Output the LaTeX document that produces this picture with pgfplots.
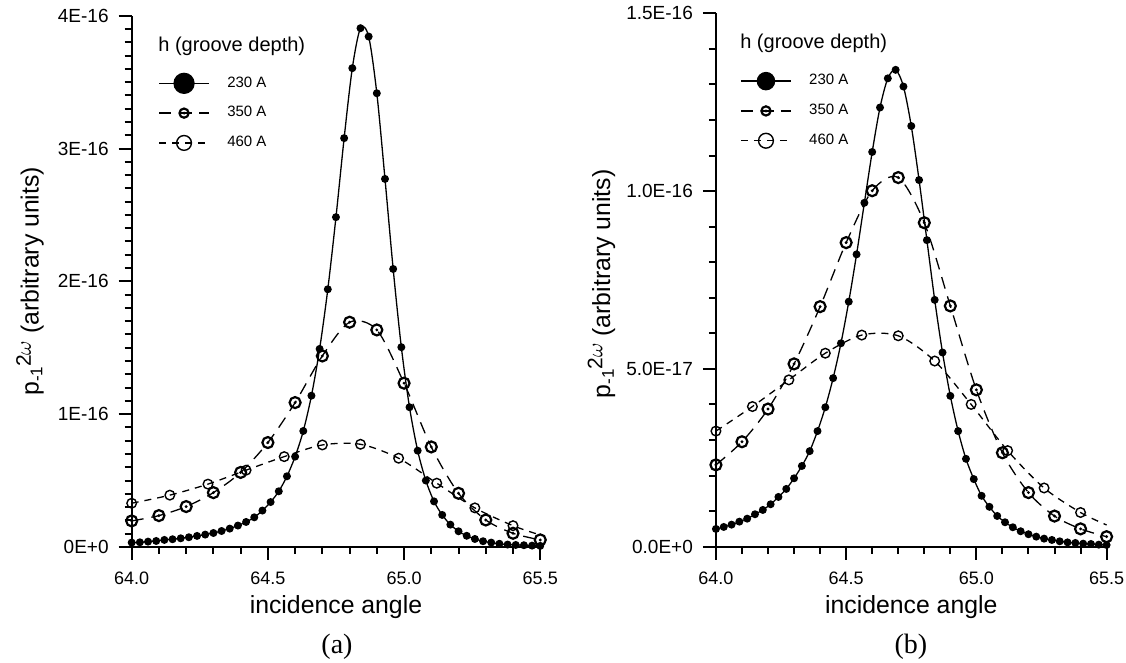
\documentclass[border=0pt]{standalone}
\usepackage{fontspec}
\setmainfont{Liberation Sans}
\newfontfamily\capfont{Liberation Serif}
\usepackage{pgfplots}
\pgfplotsset{compat=1.18}

% circle with a dot in the middle (350 A)
\pgfdeclareplotmark{dotcirc}{%
  \pgfpathcircle{\pgfpointorigin}{\pgfplotmarksize}\pgfusepathqstroke
  \pgfpathcircle{\pgfpointorigin}{0.8pt}\pgfusepathqfill}

\pgfplotsset{
  panel/.style={
    scale only axis, axis lines*=left, tick align=outside, clip=false,
    axis line style={line width=1pt},
    tick style={black, line width=1pt},
    major tick length=6.5pt, minor tick length=3.5pt,
    xmin=64, xmax=65.5, xtick={64,64.5,65,65.5},
    xticklabels={64.0,64.5,65.0,65.5}, minor x tick num=4,
    xticklabel style={font=\fontsize{9}{10}\selectfont, yshift=-2.5pt},
    yticklabel style={font=\fontsize{9.5}{10}\selectfont, xshift=-1.5pt},
    xlabel={incidence angle},
    xlabel style={at={(axis description cs:0.5,-0.126)}, anchor=base,
      font=\fontsize{12.4}{14}\selectfont},
    ylabel={p\raisebox{-0.3ex}{\fontsize{8.5}{9}\selectfont -1}\raisebox{3.8pt}{\fontsize{10.5}{11}\selectfont 2$\omega$} (arbitrary units)},
    ylabel style={anchor=base, font=\fontsize{12.4}{14}\selectfont},
    legend style={draw=none, fill=none, inner sep=0pt, anchor=north west,
      row sep=0.25pt, column sep=8.8pt,
      font=\fontsize{7.5}{8}\selectfont, nodes={inner sep=0pt}},
    legend cell align=left,
    legend image code/.code={
      \draw[mark repeat=2,mark phase=2] plot coordinates {(0pt,0pt) (12.5pt,0pt) (25pt,0pt)};
      \path (0pt,-7pt) (0pt,7pt);},
  },
  s230/.style={black, line width=0.65pt, smooth, mark=*, mark size=1.65pt,
    mark options={solid, fill=black}},
  s350/.style={black, line width=0.65pt, smooth, dash pattern=on 6pt off 4pt,
    mark=dotcirc, mark size=2.75pt, mark options={solid, line width=1.1pt}},
  s460/.style={black, line width=0.65pt, smooth, dash pattern=on 3.5pt off 3pt,
    mark=o, mark size=2.4pt, mark options={solid, line width=0.7pt}},
}

\begin{document}
\begin{tikzpicture}
\path[use as bounding box] (-65.85pt,-58pt) rectangle (497.2pt,273.5pt);

% ---------------- (a) ----------------
\begin{axis}[panel, at={(0pt,0pt)}, anchor=south west,
  width=204.3pt, height=265.65pt,
  ymin=0, ymax=4, ytick={0,1,2,3,4},
  yticklabels={0E+0,1E-16,2E-16,3E-16,4E-16}, minor y tick num=9,
  ylabel style={at={(axis description cs:-0.228,0.5)}},
  legend style={at={(axis description cs:0.0644,0.901)}}]
\addplot[s230, forget plot] coordinates {
 (64.00,0.033) (64.03,0.035) (64.06,0.040) (64.09,0.045) (64.12,0.053)
 (64.15,0.058) (64.18,0.065) (64.21,0.073) (64.24,0.083) (64.27,0.093)
 (64.30,0.105) (64.33,0.120) (64.36,0.138) (64.39,0.161) (64.42,0.188)
 (64.45,0.223) (64.48,0.274) (64.51,0.338) (64.54,0.419) (64.57,0.532)
 (64.60,0.680) (64.63,0.873) (64.66,1.139) (64.69,1.491) (64.72,1.940)
 (64.75,2.483) (64.78,3.078) (64.81,3.605) (64.84,3.906) (64.87,3.843)
 (64.90,3.416) (64.93,2.771) (64.96,2.093) (64.99,1.504) (65.02,1.052)
 (65.05,0.725) (65.08,0.500) (65.11,0.343) (65.14,0.241) (65.17,0.168)
 (65.20,0.118) (65.23,0.084) (65.26,0.060) (65.29,0.043) (65.32,0.033)
 (65.35,0.024) (65.38,0.018) (65.41,0.015) (65.44,0.013) (65.47,0.010)
 (65.50,0.008)};
\addplot[s350, forget plot] coordinates {
 (64.0,0.196) (64.1,0.236) (64.2,0.304) (64.3,0.409) (64.4,0.561)
 (64.5,0.786) (64.6,1.087) (64.7,1.438) (64.8,1.692) (64.9,1.634)
 (65.0,1.233) (65.1,0.753) (65.2,0.404) (65.3,0.203) (65.4,0.103)
 (65.5,0.053)};
\addplot[s460, mark=none, forget plot] coordinates {
 (64.00,0.329) (64.14,0.390) (64.28,0.473) (64.42,0.578) (64.56,0.680)
 (64.70,0.768) (64.84,0.773) (64.98,0.668) (65.12,0.480) (65.26,0.294)
 (65.40,0.160) (65.50,0.090)};
\addplot[s460, only marks, forget plot] coordinates {
 (64.00,0.329) (64.14,0.390) (64.28,0.473) (64.42,0.578) (64.56,0.680)
 (64.70,0.768) (64.84,0.773) (64.98,0.668) (65.12,0.480) (65.26,0.294)
 (65.40,0.160)};
\addlegendimage{s230, mark size=5pt}
\addlegendentry{230 A}
\addlegendimage{s350, mark size=2.3pt}
\addlegendentry{350 A}
\addlegendimage{s460, mark size=3.7pt}
\addlegendentry{460 A}
\node[anchor=west, inner sep=0pt, font=\fontsize{10}{12}\selectfont]
  at (axis description cs:0.0644,0.9417) {h (groove depth)};
\end{axis}

% ---------------- (b) ----------------
\begin{axis}[panel, at={(292.15pt,0.15pt)}, anchor=south west,
  width=195.35pt, height=266.7pt,
  ymin=0, ymax=15, ytick={0,5,10,15},
  yticklabels={0.0E+0,5.0E-17,1.0E-16,1.5E-16}, minor y tick num=4,
  ylabel style={at={(axis description cs:-0.271,0.4925)}},
  legend style={at={(axis description cs:0.0614,0.901)}}]
\addplot[s230, forget plot] coordinates {
 (64.00,0.498) (64.03,0.554) (64.06,0.619) (64.09,0.703) (64.12,0.787)
 (64.15,0.911) (64.18,1.032) (64.21,1.192) (64.24,1.398) (64.27,1.623)
 (64.30,1.923) (64.33,2.269) (64.36,2.686) (64.39,3.25) (64.42,3.92)
 (64.45,4.74) (64.48,5.72) (64.51,6.89) (64.54,8.22) (64.57,9.67)
 (64.60,11.10) (64.63,12.35) (64.66,13.17) (64.69,13.41) (64.72,12.94)
 (64.75,11.83) (64.78,10.31) (64.81,8.62) (64.84,6.94) (64.87,5.46)
 (64.90,4.24) (64.93,3.25) (64.96,2.47) (64.99,1.90) (65.02,1.43)
 (65.05,1.12) (65.08,0.863) (65.11,0.686) (65.14,0.545) (65.17,0.433)
 (65.20,0.349) (65.23,0.281) (65.26,0.225) (65.29,0.188) (65.32,0.150)
 (65.35,0.120) (65.38,0.104) (65.41,0.084) (65.44,0.075) (65.47,0.056)
 (65.50,0.047)};
\addplot[s350, forget plot] coordinates {
 (64.0,2.30) (64.1,2.95) (64.2,3.87) (64.3,5.14) (64.4,6.75)
 (64.5,8.55) (64.6,10.01) (64.7,10.38) (64.8,9.11) (64.9,6.77)
 (65.0,4.41) (65.1,2.64) (65.2,1.52) (65.3,0.86) (65.4,0.50)
 (65.5,0.28)};
\addplot[s460, mark=none, forget plot] coordinates {
 (64.00,3.25) (64.14,3.94) (64.28,4.69) (64.42,5.44) (64.56,5.95)
 (64.70,5.93) (64.84,5.22) (64.98,4.00) (65.12,2.70) (65.26,1.65)
 (65.40,0.96) (65.50,0.61)};
\addplot[s460, only marks, forget plot] coordinates {
 (64.00,3.25) (64.14,3.94) (64.28,4.69) (64.42,5.44) (64.56,5.95)
 (64.70,5.93) (64.84,5.22) (64.98,4.00) (65.12,2.70) (65.26,1.65)
 (65.40,0.96)};
\addlegendimage{s230, mark size=4.3pt}
\addlegendentry{230 A}
\addlegendimage{s350, mark size=2.3pt}
\addlegendentry{350 A}
\addlegendimage{s460, mark size=3.7pt}
\addlegendentry{460 A}
\node[anchor=west, inner sep=0pt, font=\fontsize{10}{12}\selectfont]
  at (axis description cs:0.0614,0.944) {h (groove depth)};
\end{axis}

\node[font=\capfont\fontsize{14}{16}\selectfont] at (102.65pt,-50pt) {(a)};
\node[font=\capfont\fontsize{14}{16}\selectfont] at (389.65pt,-50pt) {(b)};
\end{tikzpicture}
\end{document}
